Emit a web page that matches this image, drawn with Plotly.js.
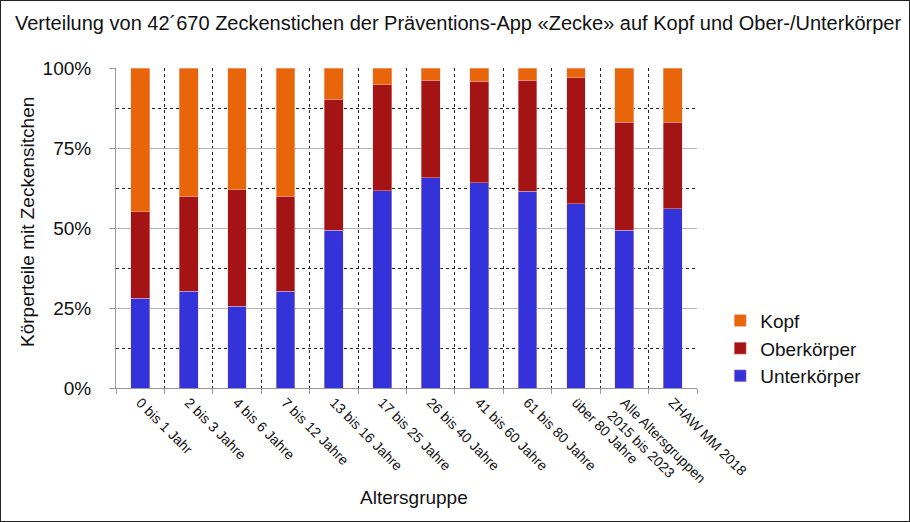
<!DOCTYPE html>
<html>
<head>
<meta charset="utf-8">
<script src="https://cdn.plot.ly/plotly-3.0.1.min.js"></script>
<style>
  html, body { margin: 0; padding: 0; background: #fff; }
  #chart { width: 908px; height: 520px; border: 1px solid #222; }
</style>
</head>
<body>
<div id="chart"></div>
<script>
const categories = [
  "0 bis 1 Jahr", "2 bis 3 Jahre", "4 bis 6 Jahre", "7 bis 12 Jahre",
  "13 bis 16 Jahre", "17 bis 25 Jahre", "26 bis 40 Jahre", "41 bis 60 Jahre",
  "61 bis 80 Jahre", "über 80 Jahre", "Alle Altersgruppen<br>2015 bis 2023", "ZHAW MM 2018"
];
const unterkoerper = [28.0, 30.3, 25.6, 30.3, 49.3, 61.7, 65.7, 64.1, 61.5, 57.6, 49.3, 56.0];
const oberkoerper  = [27.1, 29.7, 36.3, 29.7, 40.9, 33.0, 30.5, 31.8, 34.6, 39.4, 33.7, 27.0];
const kopf         = [44.9, 40.0, 38.1, 40.0,  9.8,  5.3,  3.8,  4.1,  3.9,  3.0, 17.0, 17.0];
const yTickValues  = [0, 25, 50, 75, 100];
const yTickLabels  = ["0%", "25%", "50%", "75%", "100%"];

const FONT = "Liberation Sans, Arial, sans-serif";
const segLine = { color: "rgba(255,200,200,0.7)", width: 0.6 };

const traces = [
  { type: "bar", name: "Unterkörper", x: categories, y: unterkoerper,
    marker: { color: "#3333D9", line: segLine } },
  { type: "bar", name: "Oberkörper", x: categories, y: oberkoerper,
    marker: { color: "#A51414", line: segLine } },
  { type: "bar", name: "Kopf", x: categories, y: kopf,
    marker: { color: "#E8650A", line: segLine } }
];

const W = 908, H = 520;
const layout = {
  width: W, height: H,
  paper_bgcolor: "#fff", plot_bgcolor: "#fff",
  margin: { l: 115, r: 212, t: 67, b: 133 },
  barmode: "stack",
  bargap: 0.61,
  font: { family: FONT, color: "#111" },
  title: {
    text: "Verteilung von 42´670 Zeckenstichen der Präventions-App «Zecke» auf Kopf und Ober-/Unterkörper",
    font: { size: 20, family: FONT, color: "#111" },
    x: 14 / W, xanchor: "left", xref: "container",
    y: 1 - 22 / H, yanchor: "middle", yref: "container"
  },
  xaxis: {
    type: "category",
    tickangle: 45,
    tickfont: { size: 14, family: FONT, color: "#111" },
    tickson: "boundaries",
    ticks: "outside", ticklen: 5, tickcolor: "#999",
    showline: true, linecolor: "#999", linewidth: 1,
    showgrid: true, gridcolor: "#222", griddash: "dot", gridwidth: 1,
    automargin: false
  },
  yaxis: {
    range: [0, 100],
    tickvals: yTickValues, ticktext: yTickLabels,
    tickfont: { size: 19, family: FONT, color: "#111" },
    ticks: "outside", ticklen: 6, tickcolor: "#999",
    ticklabelstandoff: 14,
    showline: true, linecolor: "#999", linewidth: 1,
    showgrid: true, gridcolor: "#b5b5b5", gridwidth: 1,
    zeroline: false,
    minor: { dtick: 12.5, tick0: 12.5, showgrid: true, gridcolor: "#222", griddash: "dot", gridwidth: 1, ticks: "" },
    automargin: false
  },
  annotations: [
    { text: "Körperteile mit Zeckensitchen", textangle: -90,
      xref: "paper", yref: "paper",
      x: (26 - 115) / (W - 115 - 212), y: (H - 133 - 221) / (H - 67 - 133),
      xanchor: "center", yanchor: "middle", showarrow: false,
      font: { size: 19, family: FONT, color: "#111" } },
    { text: "Altersgruppe",
      xref: "paper", yref: "paper",
      x: (413 - 115) / (W - 115 - 212), y: (H - 133 - 496) / (H - 67 - 133),
      xanchor: "center", yanchor: "middle", showarrow: false,
      font: { size: 19, family: FONT, color: "#111" } }
  ],
  legend: {
    x: 1.04, xanchor: "left", y: 0.27, yanchor: "top",
    traceorder: "reversed",
    font: { size: 19, family: FONT, color: "#111" },
    itemwidth: 30,
    bgcolor: "rgba(0,0,0,0)"
  },
  showlegend: true
};

Plotly.newPlot("chart", traces, layout, { displayModeBar: false, staticPlot: true });
</script>
</body>
</html>
